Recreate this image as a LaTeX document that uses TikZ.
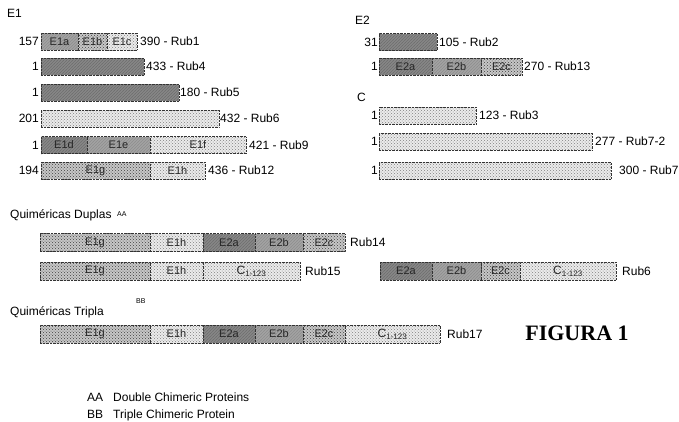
\documentclass[tikz,border=0pt]{standalone}
\usepackage{fontspec}
\setmainfont{Liberation Sans}
\newfontfamily\figfont{Liberation Serif}
\usetikzlibrary{positioning,patterns}
\tikzset{
  seg/.style={draw=black!80, densely dotted, inner sep=0pt, outer sep=0pt,
    minimum height=17pt, font=\fontsize{11}{12}\selectfont, text=black!85},
  hatchdark/.style={preaction={fill=black!45}, pattern=north east lines, pattern color=black},
  hatchmid/.style={preaction={fill=black!35}, pattern=north east lines, pattern color=black!80},
  dotsmid/.style={preaction={fill=black!22}, pattern=crosshatch dots, pattern color=black!75},
  dotslight/.style={preaction={fill=black!8}, pattern=crosshatch dots, pattern color=black!50},
  lbl/.style={inner sep=0pt, font=\fontsize{12}{14}\selectfont},
}

\begin{document}
\begin{tikzpicture}[x=1pt,y=-1pt]
\useasboundingbox (0,0) rectangle (679,421);

% E1
\node[lbl, anchor=west] (tE1) at (7,13) {E1};

\node[seg, hatchmid, minimum width=37pt, anchor=west] (e1a) at (41,41.5) {E1a};
\node[seg, dotsmid, minimum width=29pt, right=0pt of e1a] (e1b) {E1b};
\node[seg, dotslight, minimum width=30pt, right=0pt of e1b] (e1c) {E1c};
\node[lbl, left=2pt of e1a] (n1) {157};
\node[lbl, right=3pt of e1c] (r1) {390 - Rub1};

\node[seg, hatchdark, minimum width=103pt, anchor=west] (rub4) at (41,66.5) {};
\node[lbl, left=2pt of rub4] (n4) {1};
\node[lbl, right=2pt of rub4] (r4) {433 - Rub4};

\node[seg, hatchdark, minimum width=138pt, anchor=west] (rub5) at (41,92.5) {};
\node[lbl, left=2pt of rub5] (n5) {1};
\node[lbl, right=1pt of rub5] (r5) {180 - Rub5};

\node[seg, dotslight, minimum width=178pt, anchor=west] (rub6a) at (41,118.5) {};
\node[lbl, left=2pt of rub6a] (n6) {201};
\node[lbl, right=1pt of rub6a] (r6) {432 - Rub6};

\node[seg, hatchdark, minimum width=46pt, anchor=west] (e1d) at (41,145) {E1d};
\node[seg, hatchmid, minimum width=63pt, right=0pt of e1d] (e1e) {E1e};
\node[seg, dotslight, minimum width=96pt, right=0pt of e1e] (e1f) {E1f};
\node[lbl, left=2pt of e1d] (n9) {1};
\node[lbl, right=3pt of e1f] (r9) {421 - Rub9};

\node[seg, dotsmid, minimum width=109pt, anchor=west] (e1g) at (41,170.5) {E1g};
\node[seg, dotslight, minimum width=55pt, right=0pt of e1g] (e1h) {E1h};
\node[lbl, left=2pt of e1g] (n12) {194};
\node[lbl, right=3pt of e1h] (r12) {436 - Rub12};

% E2
\node[lbl, anchor=west] (tE2) at (355,20) {E2};

\node[seg, hatchdark, minimum width=58pt, anchor=west] (rub2) at (379,42) {};
\node[lbl, left=1pt of rub2] (n2) {31};
\node[lbl, right=2pt of rub2] (r2) {105 - Rub2};

\node[seg, hatchdark, minimum width=53pt, anchor=west] (e2a) at (379,66.5) {E2a};
\node[seg, hatchmid, minimum width=49pt, right=0pt of e2a] (e2b) {E2b};
\node[seg, dotsmid, minimum width=41pt, right=0pt of e2b] (e2c) {E2c};
\node[lbl, left=1pt of e2a] (n13) {1};
\node[lbl, right=2pt of e2c] (r13) {270 - Rub13};

% C
\node[lbl, anchor=west] (tC) at (357,97) {C};

\node[seg, dotslight, minimum width=97pt, anchor=west] (rub3) at (379,115.5) {};
\node[lbl, left=1pt of rub3] (n3) {1};
\node[lbl, right=3pt of rub3] (r3) {123 - Rub3};

\node[seg, dotslight, minimum width=213pt, anchor=west] (rub72) at (379,141.5) {};
\node[lbl, left=1pt of rub72] (n72) {1};
\node[lbl, right=3pt of rub72] (r72) {277 - Rub7-2};

\node[seg, dotslight, minimum width=232pt, anchor=west] (rub7) at (379,170.5) {};
\node[lbl, left=1pt of rub7] (n7) {1};
\node[lbl, right=8pt of rub7] (r7) {300 - Rub7};

% quimericas duplas
\node[lbl, anchor=west] (tDup) at (10,215) {Quiméricas Duplas};
\node[inner sep=0pt, font=\fontsize{7}{8}\selectfont, anchor=west] (aa) at (117,214) {AA};

\node[seg, dotsmid, minimum height=18pt, minimum width=110pt, anchor=west] (d1g) at (40,242.5) {E1g};
\node[seg, dotslight, minimum height=18pt, minimum width=53pt, right=0pt of d1g] (d1h) {E1h};
\node[seg, hatchdark, minimum height=18pt, minimum width=52pt, right=0pt of d1h] (d2a) {E2a};
\node[seg, hatchmid, minimum height=18pt, minimum width=48pt, right=0pt of d2a] (d2b) {E2b};
\node[seg, dotsmid, minimum height=18pt, minimum width=42pt, right=0pt of d2b] (d2c) {E2c};
\node[lbl, right=5pt of d2c] (r14) {Rub14};

\node[seg, dotsmid, minimum height=18pt, minimum width=110pt, anchor=west] (f1g) at (40,271) {E1g};
\node[seg, dotslight, minimum height=18pt, minimum width=53pt, right=0pt of f1g] (f1h) {E1h};
\node[seg, dotslight, minimum height=18pt, minimum width=97pt, right=0pt of f1h] (fc) {\fontsize{12}{14}\selectfont C\textsubscript{1-123}};
\node[lbl, right=5pt of fc] (r15) {Rub15};

\node[seg, hatchdark, minimum height=18pt, minimum width=52pt, anchor=west] (g2a) at (380,271) {E2a};
\node[seg, hatchmid, minimum height=18pt, minimum width=49pt, right=0pt of g2a] (g2b) {E2b};
\node[seg, dotsmid, minimum height=18pt, minimum width=39pt, right=0pt of g2b] (g2c) {E2c};
\node[seg, dotslight, minimum height=18pt, minimum width=96pt, right=0pt of g2c] (gc) {\fontsize{12}{14}\selectfont C\textsubscript{1-123}};
\node[lbl, right=6pt of gc] (r6b) {Rub6};

% quimericas tripla
\node[lbl, anchor=west] (tTri) at (10,312) {Quiméricas Tripla};
\node[inner sep=0pt, font=\fontsize{7}{8}\selectfont, anchor=west] (bb) at (136,301) {BB};

\node[seg, dotsmid, minimum height=18pt, minimum width=110pt, anchor=west] (t1g) at (40,334) {E1g};
\node[seg, dotslight, minimum height=18pt, minimum width=53pt, right=0pt of t1g] (t1h) {E1h};
\node[seg, hatchdark, minimum height=18pt, minimum width=52pt, right=0pt of t1h] (t2a) {E2a};
\node[seg, hatchmid, minimum height=18pt, minimum width=48pt, right=0pt of t2a] (t2b) {E2b};
\node[seg, dotsmid, minimum height=18pt, minimum width=42pt, right=0pt of t2b] (t2c) {E2c};
\node[seg, dotslight, minimum height=18pt, minimum width=95pt, right=0pt of t2c] (tc) {\fontsize{12}{14}\selectfont C\textsubscript{1-123}};
\node[lbl, right=7pt of tc] (r17) {Rub17};

\node[inner sep=0pt, font=\figfont\bfseries\fontsize{22}{24}\selectfont] (fig) at (577,333) {FIGURA 1};

% legend
\node[lbl, anchor=west] (lgA) at (87,397) {AA\hspace{10pt}Double Chimeric Proteins};
\node[lbl, anchor=west] (lgB) at (87,415) {BB\hspace{10pt}Triple Chimeric Protein};
\end{tikzpicture}
\end{document}
